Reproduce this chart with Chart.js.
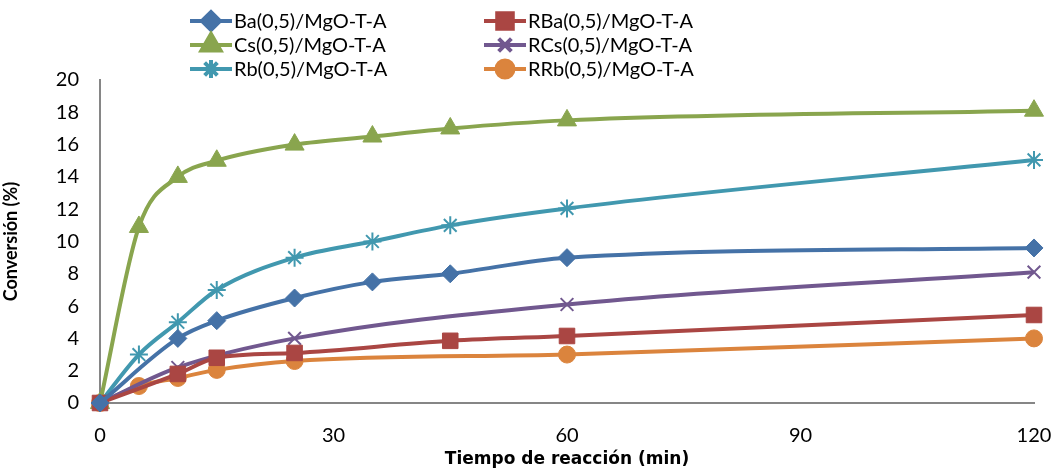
<!DOCTYPE html>
<html>
<head>
<meta charset="utf-8">
<script src="https://cdn.jsdelivr.net/npm/chart.js@4"></script>
<style>
  html, body { margin: 0; padding: 0; background: #fff; overflow: hidden; }
  #wrap { width: 1057px; height: 470px; position: relative; }
</style>
</head>
<body>
<div id="wrap"><canvas id="convChart"></canvas></div>
<script>
// data (time in min, conversion in %)
const baTime = [0, 10, 15, 25, 35, 45, 60, 120];
const baConv = [0, 4.0, 5.1, 6.5, 7.5, 8.0, 9.0, 9.6];

const rbaTime = [0, 10, 15, 25, 45, 60, 120];
const rbaConv = [0, 1.8, 2.8, 3.1, 3.85, 4.15, 5.45];

const csTime = [0, 5, 10, 15, 25, 35, 45, 60, 120];
const csConv = [0, 10.9, 14.0, 15.0, 16.0, 16.5, 17.0, 17.5, 18.1];

const rcsTime = [0, 10, 25, 60, 120];
const rcsConv = [0, 2.2, 4.0, 6.1, 8.1];

const rbTime = [0, 5, 10, 15, 25, 35, 45, 60, 120];
const rbConv = [0, 3.0, 5.0, 7.0, 9.0, 10.0, 11.0, 12.05, 15.05];

const rrbTime = [0, 5, 10, 15, 25, 60, 120];
const rrbConv = [0, 1.05, 1.55, 2.05, 2.6, 3.0, 4.0];

const xTicks = [0, 30, 60, 90, 120];

function pts(xs, ys) {
    return xs.map((x, i) => ({ x: x, y: ys[i] }));
}

function series(label, xs, ys, color, style, radius) {
    return {
        label: label,
        data: pts(xs, ys),
        borderColor: color,
        backgroundColor: color,
        pointBackgroundColor: color,
        pointBorderColor: color,
        pointStyle: style,
        pointRadius: radius,
        pointBorderWidth: (style === "crossRot" || style === "star") ? 2 : 1,
        borderWidth: 4,
        cubicInterpolationMode: "monotone",
        clip: false,
        fill: false
    };
}

const datasets = [
    series("Ba(0,5)/MgO-T-A", baTime, baConv, "#4572A7", "rectRot", 9),
    series("RBa(0,5)/MgO-T-A", rbaTime, rbaConv, "#AA4643", "rect", 11),
    series("Cs(0,5)/MgO-T-A", csTime, csConv, "#89A54E", "triangle", 11),
    series("RCs(0,5)/MgO-T-A", rcsTime, rcsConv, "#71588F", "crossRot", 9),
    series("Rb(0,5)/MgO-T-A", rbTime, rbConv, "#4198AF", "star", 9),
    series("RRb(0,5)/MgO-T-A", rrbTime, rrbConv, "#DB843D", "circle", 8.5)
];

const FONT = "Lato, 'Open Sans', sans-serif";

// legend in two columns, drawn on top of the chart
const legendPlugin = {
    id: "twoColLegend",
    afterDraw(chart) {
        const ctx = chart.ctx;
        const cols = [190, 484];
        const rows = [21, 45, 69];
        ctx.save();
        chart.data.datasets.forEach((ds, i) => {
            const x = cols[i % 2];
            const y = rows[Math.floor(i / 2)];
            ctx.strokeStyle = ds.borderColor;
            ctx.lineWidth = 4;
            ctx.beginPath();
            ctx.moveTo(x, y);
            ctx.lineTo(x + 42, y);
            ctx.stroke();
            Chart.helpers.drawPoint(ctx, {
                pointStyle: ds.pointStyle,
                radius: ds.pointRadius,
                borderWidth: ds.pointBorderWidth
            }, x + 21, y);
            ctx.fillStyle = ds.borderColor;
            if (ds.pointStyle !== "crossRot" && ds.pointStyle !== "star") ctx.fill();
            ctx.fillStyle = "#000";
            ctx.font = "20px " + FONT;
            ctx.textBaseline = "middle";
            ctx.fillText(ds.label, x + 44, y + 1);
        });
        ctx.restore();
    }
};

const ctx = document.getElementById("convChart").getContext("2d");
new Chart(ctx, {
    type: "line",
    data: { datasets: datasets },
    plugins: [legendPlugin],
    options: {
        responsive: true,
        maintainAspectRatio: false,
        animation: false,
        layout: { autoPadding: false, padding: { top: 80, right: 23, left: 0, bottom: 0 } },
        plugins: {
            legend: { display: false },
            tooltip: { enabled: false }
        },
        scales: {
            x: {
                type: "linear",
                min: 0,
                max: 120,
                afterBuildTicks: (axis) => { axis.ticks = xTicks.map(v => ({ value: v })); },
                afterFit: (axis) => {
                    axis.height = 67;
                    axis.paddingLeft = 0;
                    axis.paddingRight = 0;
                },
                grid: { display: false, drawTicks: false },
                border: { color: "#868686", width: 2 },
                ticks: { color: "#000", font: { size: 20, family: FONT }, padding: 21, maxRotation: 0 },
                title: {
                    display: true,
                    text: "Tiempo de reacción (min)",
                    color: "#000",
                    font: { size: 17, weight: "bold", family: "'DejaVu Sans', sans-serif" },
                    padding: { top: 0, bottom: 0 }
                }
            },
            y: {
                min: 0,
                max: 20,
                afterFit: (axis) => { axis.width = 100; },
                grid: { display: false, drawTicks: false },
                border: { color: "#868686", width: 2 },
                ticks: { stepSize: 2, color: "#000", font: { size: 20, family: FONT }, padding: 21 },
                title: {
                    display: true,
                    text: "Conversión (%)",
                    color: "#000",
                    font: { size: 18, weight: "bold", family: FONT },
                    padding: { top: 0, bottom: 4 }
                }
            }
        }
    }
});
</script>
</body>
</html>
